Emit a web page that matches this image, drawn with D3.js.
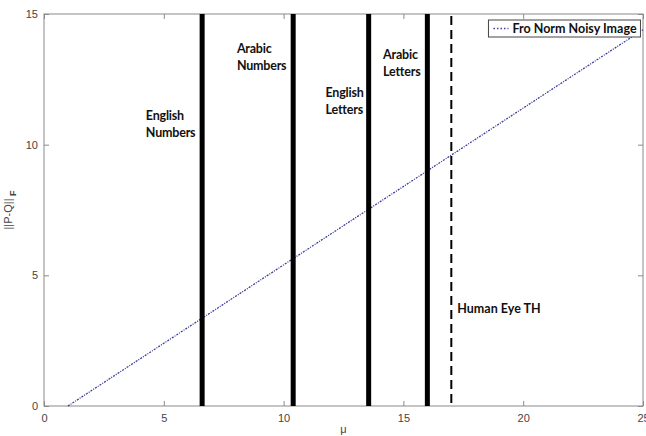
<!DOCTYPE html>
<html>
<head>
<meta charset="utf-8">
<script src="https://cdn.jsdelivr.net/npm/d3@7"></script>
<style>
  body { margin: 0; background: #fff; }
</style>
</head>
<body>
<div id="my_dataviz"></div>
<script>
const margin = {top: 14, right: 3, bottom: 30, left: 44},
    width = 646 - margin.left - margin.right,
    height = 436 - margin.top - margin.bottom;

// data
const mu = [1, 2, 3, 4, 5, 6, 7, 8, 9, 10, 11, 12, 13, 14, 15, 16, 17, 18, 19, 20, 21, 22, 23, 24, 25]
const froNorm = [0, 0.6, 1.2, 1.8, 2.4, 3.0, 3.6, 4.2, 4.8, 5.4, 6.0, 6.6, 7.2, 7.8, 8.4, 9.0, 9.6, 10.2, 10.8, 11.4, 12.0, 12.6, 13.2, 13.8, 14.4]
const thresholds = [6.6, 10.4, 13.55, 16.0]
const thresholdNames = [["English", "Numbers"], ["Arabic", "Numbers"], ["English", "Letters"], ["Arabic", "Letters"]]
// annotation anchors in data units (left edge, first baseline)
const labelX = [4.25, 8.05, 11.75, 14.15]
const labelY = [10.95, 13.51, 11.83, 13.28]
const eyeTH = 17
const eyeLabel = "Human Eye TH"
const xTicks = [0, 5, 10, 15, 20, 25]
const yTicks = [0, 5, 10, 15]

const svg = d3.select("#my_dataviz")
    .append("svg")
    .attr("width", width + margin.left + margin.right)
    .attr("height", height + margin.top + margin.bottom)
    .append("g")
    .attr("transform", `translate(${margin.left}, ${margin.top})`);

const x = d3.scaleLinear().domain([0, 25]).range([0, width])
const y = d3.scaleLinear().domain([0, 15]).range([height, 0])

const tickFont = "'Liberation Sans', Arial, sans-serif"
const boldFont = "Lato, 'Open Sans', sans-serif"

// axes box
svg.append("rect")
    .attr("width", width)
    .attr("height", height)
    .style("fill", "white")
    .style("stroke", "#8a8a8a")

const xAxis = svg.append("g")
    .attr("transform", `translate(0, ${height})`)
    .call(d3.axisBottom(x).tickValues(xTicks).tickSize(-5).tickPadding(8))
const xTop = svg.append("g")
    .call(d3.axisTop(x).tickValues(xTicks).tickSize(-5).tickFormat(""))
const yAxis = svg.append("g")
    .call(d3.axisLeft(y).tickValues(yTicks).tickSize(-5).tickPadding(6))
const yRight = svg.append("g")
    .attr("transform", `translate(${width}, 0)`)
    .call(d3.axisRight(y).tickValues(yTicks).tickSize(-5).tickFormat(""))

;[xAxis, xTop, yAxis, yRight].forEach(function(a){
    a.select(".domain").remove()
    a.selectAll("line").style("stroke", "#8a8a8a")
    a.selectAll("text")
        .style("font-family", tickFont)
        .style("font-size", "11px")
        .style("fill", "#444")
})

// data line
const line = d3.line()
    .x(function(d, i){ return x(mu[i]) })
    .y(function(d){ return y(d) })

svg.append("path")
    .datum(froNorm)
    .attr("d", line)
    .style("fill", "none")
    .style("stroke", "#3c3c9a")
    .style("stroke-width", 1.3)
    .style("stroke-dasharray", "2,1.2,1,1.2")

// thick threshold bars
svg.selectAll(".bar")
    .data(thresholds)
    .join("line")
    .attr("class", "bar")
    .attr("x1", function(d){ return x(d) })
    .attr("x2", function(d){ return x(d) })
    .attr("y1", y(15))
    .attr("y2", y(0))
    .style("stroke", "black")
    .style("stroke-width", 5)

// dashed threshold
svg.append("line")
    .attr("x1", x(eyeTH))
    .attr("x2", x(eyeTH))
    .attr("y1", y(15) + 2)
    .attr("y2", y(0) - 2)
    .style("stroke", "black")
    .style("stroke-width", 2)
    .style("stroke-dasharray", "9,5")

// labels left of each bar
thresholdNames.forEach(function(w, i){
    const txt = svg.append("text")
        .attr("x", x(labelX[i]))
        .attr("y", y(labelY[i]))
        .style("font-family", boldFont)
        .style("font-weight", "bold")
        .style("font-size", "12.5px")
        .style("letter-spacing", "-0.2px")
        .style("fill", "#111")
    txt.append("tspan").attr("x", x(labelX[i])).text(w[0])
    txt.append("tspan").attr("x", x(labelX[i])).attr("dy", "1.4em").text(w[1])
})

svg.append("text")
    .attr("x", x(eyeTH) + 6)
    .attr("y", y(3.56))
    .text(eyeLabel)
    .style("font-family", boldFont)
    .style("font-weight", "bold")
    .style("font-size", "12.5px")
    .style("fill", "#111")

// legend
const lg = svg.append("g").attr("transform", `translate(${x(18.55)}, 6)`)
lg.append("rect")
    .attr("width", 152)
    .attr("height", 17)
    .style("fill", "white")
    .style("stroke", "#444")
lg.append("line")
    .attr("x1", 5).attr("x2", 20)
    .attr("y1", 8.5).attr("y2", 8.5)
    .style("stroke", "#3c3c9a")
    .style("stroke-width", 1.3)
    .style("stroke-dasharray", "1.5,2")
lg.append("text")
    .attr("x", 24)
    .attr("y", 13)
    .text("Fro Norm Noisy Image")
    .style("font-family", boldFont)
    .style("font-weight", "bold")
    .style("font-size", "12.5px")
    .style("fill", "#111")

// axis titles
svg.append("text")
    .attr("x", width / 2)
    .attr("y", height + 27)
    .text("\u03bc")
    .style("font-family", tickFont)
    .style("font-size", "11px")
    .style("fill", "#444")
    .style("text-anchor", "middle")

const yl = svg.append("text")
    .attr("transform", `translate(${-32}, ${height / 2}) rotate(-90)`)
    .style("font-family", tickFont)
    .style("font-size", "11px")
    .style("fill", "#444")
    .style("text-anchor", "middle")
yl.append("tspan").text("||P-Q||")
yl.append("tspan").attr("dy", 4).style("font-size", "9px").style("font-weight", "bold").text(" F")
</script>
</body>
</html>
